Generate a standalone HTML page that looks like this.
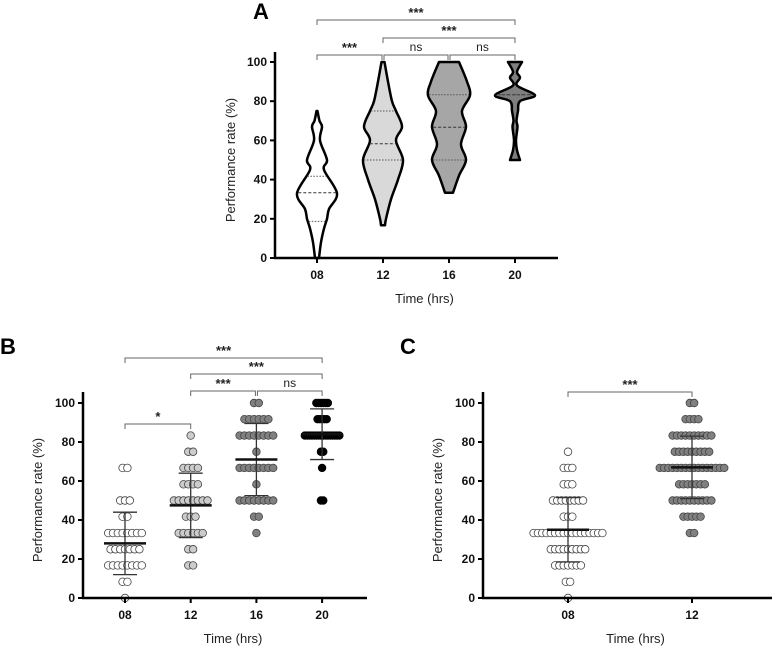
<!DOCTYPE html>
<html><head><meta charset="utf-8"><style>
html,body{margin:0;padding:0;background:#fff}
svg{display:block;font-family:"Liberation Sans",Arial,sans-serif}
.tk{font-size:12px;font-weight:bold;fill:#111}
.tt{font-size:13px;fill:#222}
.st{font-size:13px;font-weight:bold;fill:#222}
.ns{font-size:12px;fill:#222}
.lt{font-size:22px;font-weight:bold;fill:#000}
</style></head><body>
<svg id="fig" width="777" height="648" viewBox="0 0 777 648"></svg>
<script>
// ---- data ----
const violinCats = ["08","12","16","20"];
const violinFills = ["#ffffff","#d9d9d9","#a6a6a6","#7f7f7f"];
const violinVals08 = [0,8,15,20,25,33,45,50,60,67,70,75];
const violinW08    = [2,4,7,10,12,20,7,10,3,5,2.5,0.5];
const violinVals12 = [16.7,20,30,40,50,60,67,75,80,90,100];
const violinW12    = [2,3,8,15,20,13,19,13,9,5,1.5];
const violinVals16 = [33.3,42,50,58,67,75,83,90,100];
const violinW16    = [4,10,17,12,17,13,21,18,10];
const violinVals20 = [50,55,60,67,70,75,80,83,88,92,95,100];
const violinW20    = [5,2,1,2.5,1.5,3,5,20,2,5,2,7];
const violinQuart  = [[18.7,33.3,41.7],[50,58.3,75],[50,66.7,83.3],[83.3,83.3,83.3]];

const bCats = ["08","12","16","20"];
const bLevels = [0,8.3,16.7,25,33.3,41.7,50,58.3,66.7,75,83.3,91.7,100];
const bCounts08 = [1,2,8,7,8,2,3,0,2,0,0,0,0];
const bCounts12 = [0,0,2,2,6,3,8,4,4,2,1,0,0];
const bCounts16 = [0,0,0,0,1,2,8,1,8,1,8,6,2];
const bCounts20 = [0,0,0,0,0,0,2,0,1,2,16,5,6];
const bMean = [28,47.5,71,84];
const bSD = [16,16.5,18.5,13];

const cCats = ["08","12"];
const cCounts08 = [1,2,7,9,17,3,8,3,3,1,0,0,0];
const cCounts12 = [0,0,0,0,2,5,10,7,16,9,10,4,2];
const cMean = [35,67];
const cSD = [16.5,16];

// ---- helpers ----
const NS="http://www.w3.org/2000/svg";
const svg=document.getElementById('fig');
function mk(tag,attrs,parent,txt){const e=document.createElementNS(NS,tag);for(const k in attrs)e.setAttribute(k,attrs[k]);if(txt!==undefined)e.textContent=txt;(parent||svg).appendChild(e);return e;}
function axes(ox,y0,y100,xEnd,yTop,cats,xs,title,titleX,titleY,g){
  const ya=mk('line',{x1:ox,y1:yTop,x2:ox,y2:y0+1,stroke:'#000','stroke-width':2.5},g);
  
  
  const xa=mk('line',{x1:ox-1,y1:y0,x2:xEnd,y2:y0,stroke:'#000','stroke-width':2.5},g);
  
  
  for(let v=0;v<=100;v+=20){const y=y0+(y100-y0)*v/100;
    mk('line',{x1:ox-5,y1:y,x2:ox,y2:y,stroke:'#000','stroke-width':2},g);
    const t=mk('text',{x:ox-8,y:y+4,'text-anchor':'end',class:'tk'},g,String(v));
    
    }
  cats.forEach((c,i)=>{mk('line',{x1:xs(i),y1:y0,x2:xs(i),y2:y0+5,stroke:'#000','stroke-width':2},g);
    const t=mk('text',{x:xs(i),y:y0+21,'text-anchor':'middle',class:'tk'},g,c);
    
    });
  const xt=mk('text',{x:(ox+xEnd)/2+8,y:y0+45,'text-anchor':'middle',class:'tt'},g,'Time (hrs)');
  
  
  const yt=mk('text',{x:titleX,y:titleY,'text-anchor':'middle',class:'tt',transform:`rotate(-90 ${titleX} ${titleY})`},g,'Performance rate (%)');
  
  
}
function bracket(x1,x2,y,label,g){
  const p=mk('path',{d:`M${x1},${y+5}V${y}H${x2}V${y+5}`,fill:'none',stroke:'#666','stroke-width':1},g);
  
  
  const t=mk('text',{x:(x1+x2)/2,y:label==='ns'?y-4:y-3,'text-anchor':'middle',class:label==='ns'?'ns':'st'},g,label);
  
  
}
function smooth(pts){let d=`M${pts[0][0]},${pts[0][1]}`;
  for(let i=0;i<pts.length-1;i++){const p0=pts[Math.max(0,i-1)],p1=pts[i],p2=pts[i+1],p3=pts[Math.min(pts.length-1,i+2)];
    d+=`C${p1[0]+(p2[0]-p0[0])/6},${p1[1]+(p2[1]-p0[1])/6} ${p2[0]-(p3[0]-p1[0])/6},${p2[1]-(p3[1]-p1[1])/6} ${p2[0]},${p2[1]}`;}
  return d;}

// ---- Panel A ----
(function(){
  const g=mk('g',{});
  
  
  const ox=275,y0=258,y100=62;
  const xs=i=>317+i*66;const ys=v=>y0+(y100-y0)*v/100;
  const L=mk('text',{x:253,y:19,class:'lt'},g,'A');
  
  
  const vv=[violinVals08,violinVals12,violinVals16,violinVals20],ww=[violinW08,violinW12,violinW16,violinW20];
  violinCats.forEach((c,i)=>{const cx=xs(i);const vals=vv[i],w=ww[i];
    const right=vals.map((v,k)=>[cx+w[k],ys(v)]);
    const left=vals.map((v,k)=>[cx-w[k],ys(v)]).reverse();
    const d=smooth(right)+'L'+smooth(left).slice(1)+'Z';
    const p=mk('path',{d,fill:violinFills[i],stroke:'#000','stroke-width':2.5,'stroke-linejoin':'round'},g);
    
    
    violinQuart[i].forEach((q,k)=>{
      let hw=0;for(let j=0;j<vals.length-1;j++){if(q>=vals[j]&&q<=vals[j+1]){hw=w[j]+(w[j+1]-w[j])*(q-vals[j])/(vals[j+1]-vals[j]);}}
      const l=mk('line',{x1:cx-hw+1,x2:cx+hw-1,y1:ys(q),y2:ys(q),stroke:k===1?'#333':'#555','stroke-width':1,'stroke-dasharray':k===1?'3,2':'1.5,1.5'},g);
      
      });
  });
  axes(ox,y0,y100,558,52,violinCats,xs,'',235,160,g);
  bracket(xs(0),xs(3),20,'***',g);
  bracket(xs(1),xs(3),38,'***',g);
  bracket(xs(0),xs(1)-1,55,'***',g);
  bracket(xs(1)+1,xs(2)-1,55,'ns',g);
  bracket(xs(2)+1,xs(3),55,'ns',g);
})();

function dotPanel(g,cats,countsArr,fills,means,sds,xs,ys,spacings){
  cats.forEach((c,i)=>{const cx=xs(i);
    bLevels.forEach((lv,k)=>{const n=countsArr[i][k];
      for(let j=0;j<n;j++){const x=cx+(j-(n-1)/2)*spacings[i];
        const dot=mk('circle',{cx:x,cy:ys(lv),r:3.8,fill:fills[i],stroke:fills[i]==='#000'?'#000':'#444','stroke-width':0.8},g);
        
        }});
    const m=means[i],s=sds[i];
    const e=mk('path',{d:`M${cx},${ys(m+s)}V${ys(m-s)}M${cx-12},${ys(m+s)}H${cx+12}M${cx-12},${ys(m-s)}H${cx+12}`,stroke:'#333','stroke-width':1.3,fill:'none'},g);
    
    
    const ml=mk('line',{x1:cx-21,x2:cx+21,y1:ys(m),y2:ys(m),stroke:'#111','stroke-width':2.5},g);
    
    
  });
}

// ---- Panel B ----
(function(){
  const g=mk('g',{});
  
  
  const y0=598,y100=403;const xs=i=>125+i*65.7;const ys=v=>y0+(y100-y0)*v/100;
  const L=mk('text',{x:0,y:354,class:'lt'},g,'B');
  
  
  dotPanel(g,bCats,[bCounts08,bCounts12,bCounts16,bCounts20],['#fff','#ccc','#808080','#000'],bMean,bSD,xs,ys,[4.8,4.8,4.8,2.3]);
  axes(83,y0,y100,367,392,bCats,xs,'',42,500,g);
  bracket(xs(0),xs(3),358,'***',g);
  bracket(xs(1),xs(3),374,'***',g);
  bracket(xs(1),xs(2)-1,391,'***',g);
  bracket(xs(2)+1,xs(3),391,'ns',g);
  bracket(xs(0),xs(1),424,'*',g);
})();

// ---- Panel C ----
(function(){
  const g=mk('g',{});
  
  
  const y0=598,y100=403;const xs=i=>568+i*124;const ys=v=>y0+(y100-y0)*v/100;
  const L=mk('text',{x:400,y:354,class:'lt'},g,'C');
  
  
  dotPanel(g,cCats,[cCounts08,cCounts12],['#fff','#808080'],cMean,cSD,xs,ys,[4.3,4.3]);
  axes(483,y0,y100,772,392,cCats,xs,'',442,500,g);
  bracket(xs(0),xs(1),392,'***',g);
})();
</script>
</body></html>
